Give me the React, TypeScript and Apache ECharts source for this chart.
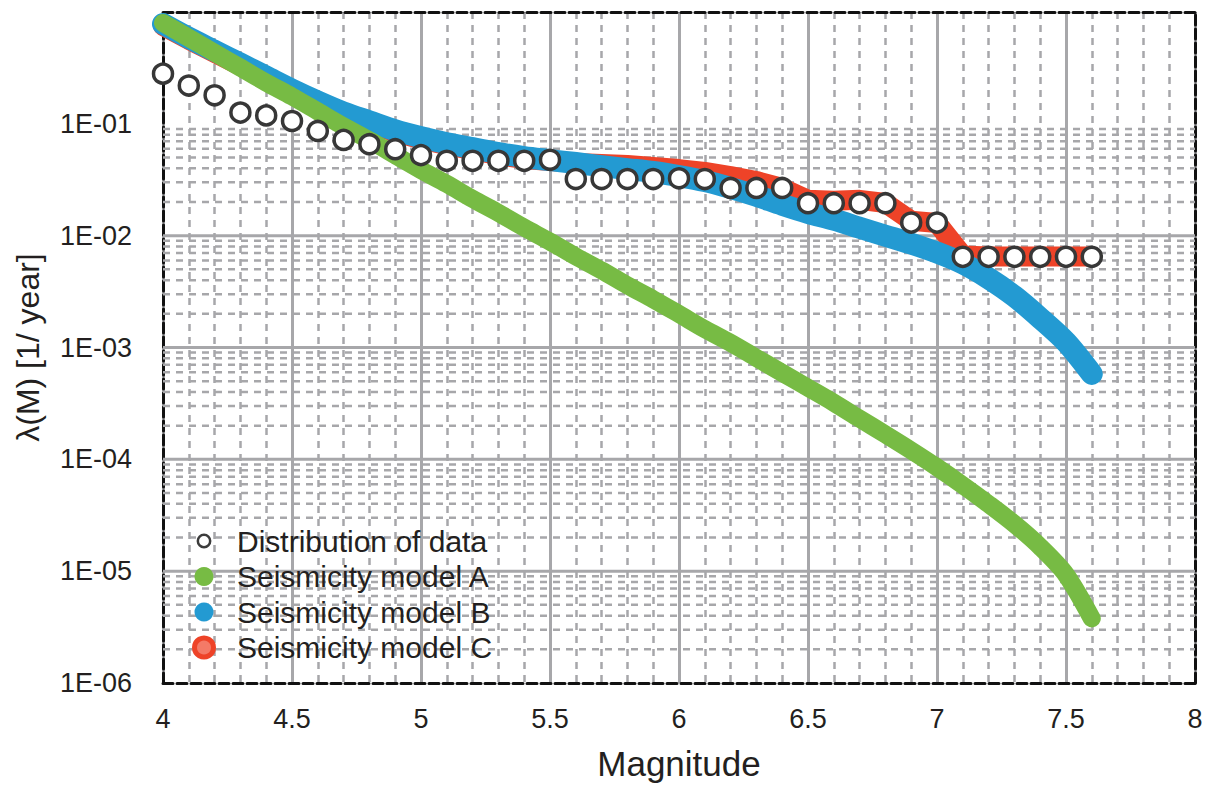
import React, { useEffect, useRef } from "react";
import * as echarts from "echarts";

// Magnitude bins (x)
const magnitudes = [
  4.0, 4.1, 4.2, 4.3, 4.4, 4.5, 4.6, 4.7, 4.8, 4.9,
  5.0, 5.1, 5.2, 5.3, 5.4, 5.5, 5.6, 5.7, 5.8, 5.9,
  6.0, 6.1, 6.2, 6.3, 6.4, 6.5, 6.6, 6.7, 6.8, 6.9,
  7.0, 7.1, 7.2, 7.3, 7.4, 7.5, 7.6,
];

// Observed cumulative rate (circles)
const dataRates = [
  0.281, 0.22, 0.18, 0.126, 0.119, 0.106, 0.0863, 0.0718, 0.0657, 0.0593,
  0.0525, 0.0467, 0.0467, 0.0467, 0.0467, 0.0477, 0.0321, 0.0321, 0.0321, 0.0321,
  0.0326, 0.0321, 0.0267, 0.0267, 0.0267, 0.0195, 0.0195, 0.0195, 0.0195, 0.0131,
  0.0131, 0.00647, 0.00647, 0.00647, 0.00647, 0.00647, 0.00647,
];

// Seismicity model A (green)
const modelA = [
  0.798, 0.587, 0.432, 0.318, 0.234, 0.1755, 0.1292, 0.095, 0.0713, 0.0525,
  0.0386, 0.029, 0.0213, 0.016, 0.01178, 0.00885, 0.00651, 0.00489, 0.00359, 0.0027,
  0.00199, 0.00146, 0.0011, 0.000807, 0.000593, 0.000437, 0.000321, 0.000231, 0.000167, 0.00012,
  0.0000849, 0.0000587, 0.0000398, 0.0000264, 0.0000165, 0.00000931, 0.00000378,
];

// Seismicity model B (blue)
const modelB = [
  0.782, 0.587, 0.45, 0.345, 0.2644, 0.2026, 0.1585, 0.1265, 0.1052, 0.0876,
  0.0759, 0.0671, 0.0606, 0.0547, 0.0504, 0.0474, 0.0446, 0.0419, 0.0394, 0.0371,
  0.0341, 0.0308, 0.0267, 0.0227, 0.0189, 0.016, 0.0139, 0.01178, 0.01, 0.00849,
  0.00706, 0.00564, 0.00415, 0.00287, 0.00183, 0.00112, 0.000581,
];

// Seismicity model C (red)
const modelC = [
  0.751, 0.564, 0.432, 0.331, 0.2538, 0.1945, 0.1522, 0.1215, 0.101, 0.084,
  0.0728, 0.0644, 0.0581, 0.0525, 0.0484, 0.0464, 0.0446, 0.0437, 0.0428, 0.0411,
  0.0394, 0.0371, 0.0341, 0.0308, 0.0267, 0.0209, 0.0205, 0.0209, 0.0196, 0.0136,
  0.013, 0.00664, 0.00651, 0.00651, 0.00651, 0.00651, 0.00651,
];

const seriesNames = [
  "Distribution of data",
  "Seismicity model A",
  "Seismicity model B",
  "Seismicity model C",
];

// Horizontal grid: solid decades and dashed 2..9 multiples
const majorDecades = [1e-5, 1e-4, 1e-3, 1e-2];
const minorExponents = [-6, -5, -4, -3, -2];
const minorMultipliers = [2, 3, 4, 5, 6, 7, 8, 9];
const xRange = [4, 8];

const FONT = "'Liberation Sans', Arial, Helvetica, sans-serif";
const TEXT = "#231f20";
const GRID = "#a7a7aa";
const GREEN = "#77bb44";
const BLUE = "#239ad2";
const RED = "#ee4328";

const pairs = (ys: number[]) => magnitudes.map((m, i) => [m, ys[i]]);

export default function App() {
  const ref = useRef<HTMLDivElement>(null);

  useEffect(() => {
    if (!ref.current) return;
    const chart = echarts.init(ref.current, undefined, { renderer: "svg" });

    const minorValues: number[] = [];
    minorExponents.forEach((e) =>
      minorMultipliers.forEach((k) =>
        minorValues.push(Number((k * Math.pow(10, e)).toPrecision(3)))
      )
    );

    const gridSeries = (v: number, dashed: boolean) => ({
      type: "line",
      data: [
        [xRange[0], v],
        [xRange[1], v],
      ],
      symbol: "none",
      silent: true,
      z: 1,
      emphasis: { disabled: true },
      lineStyle: dashed
        ? { color: GRID, width: 2.5, type: [7, 6] }
        : { color: GRID, width: 3, type: "solid" },
    });

    const border = { show: true, onZero: false, lineStyle: { color: "#111", width: 3, type: [10, 4] } };

    const option: any = {
      animation: false,
      backgroundColor: "#ffffff",
      textStyle: { fontFamily: FONT },
      grid: { left: 163, right: 17, top: 12, bottom: 99 },
      legend: {
        orient: "vertical",
        left: 187,
        top: 521,
        itemWidth: 56,
        itemHeight: 19,
        itemGap: 5.5,
        selectedMode: false,
        textStyle: { fontSize: 30, color: TEXT, lineHeight: 30, fontFamily: FONT },
        data: [
          {
            name: seriesNames[0],
            icon: "path://M0,0M20,20M3.5,10A6.5,6.5 0 1 1 16.5,10A6.5,6.5 0 1 1 3.5,10Z",
            itemStyle: { color: "#ffffff", borderColor: "#3c3c3c", borderWidth: 2.5, opacity: 1 },
          },
          { name: seriesNames[1], icon: "circle", itemStyle: { color: GREEN, borderWidth: 0 } },
          { name: seriesNames[2], icon: "circle", itemStyle: { color: BLUE, borderWidth: 0 } },
          {
            name: seriesNames[3],
            icon: "circle",
            itemStyle: { color: "#f47a67", borderColor: RED, borderWidth: 5 },
          },
        ],
      },
      xAxis: [
        {
          type: "value",
          min: 4,
          max: 8,
          interval: 0.5,
          position: "bottom",
          axisLine: border,
          axisTick: { show: false },
          axisLabel: { fontSize: 27, color: TEXT, margin: 22, fontFamily: FONT },
          splitLine: { show: true, lineStyle: { color: GRID, width: 3 } },
          minorTick: { show: false, splitNumber: 5 },
          minorSplitLine: { show: true, lineStyle: { color: GRID, width: 2.5, type: [7, 6] } },
          name: "Magnitude",
          nameLocation: "middle",
          nameGap: 63,
          nameTextStyle: { fontSize: 35, color: TEXT, fontFamily: FONT },
        },
        {
          type: "value",
          min: 4,
          max: 8,
          position: "top",
          axisLine: border,
          axisTick: { show: false },
          axisLabel: { show: false },
          splitLine: { show: false },
        },
      ],
      yAxis: [
        {
          type: "log",
          logBase: 10,
          min: 1e-6,
          max: 1,
          splitNumber: 6,
          position: "left",
          axisLine: border,
          axisTick: { show: false },
          axisLabel: {
            fontSize: 27,
            color: TEXT,
            margin: 31,
            fontFamily: FONT,
            formatter: (v: number) => {
              const e = Math.round(Math.log10(v));
              if (e >= 0) return "";
              return "1E-" + String(-e).padStart(2, "0");
            },
          },
          splitLine: { show: false },
          name: "λ(M) [1/ year]",
          nameLocation: "middle",
          nameGap: 119,
          nameTextStyle: { fontSize: 32, color: TEXT, fontFamily: FONT },
        },
        {
          type: "log",
          logBase: 10,
          min: 1e-6,
          max: 1,
          splitNumber: 6,
          position: "right",
          axisLine: border,
          axisTick: { show: false },
          axisLabel: { show: false },
          splitLine: { show: false },
        },
      ],
      series: [
        ...minorValues.map((v) => gridSeries(v, true)),
        ...majorDecades.map((v) => gridSeries(v, false)),
        {
          type: "line",
          name: seriesNames[3],
          data: pairs(modelC),
          symbol: "none",
          clip: false,
          z: 2,
          itemStyle: { color: RED },
          lineStyle: { color: RED, width: 20, cap: "round", join: "round" },
        },
        {
          type: "line",
          name: seriesNames[2],
          data: pairs(modelB),
          symbol: "none",
          clip: false,
          smooth: 0.3,
          z: 3,
          itemStyle: { color: BLUE },
          lineStyle: { color: BLUE, width: 22, cap: "round", join: "round" },
        },
        {
          type: "line",
          name: seriesNames[1],
          data: pairs(modelA),
          symbol: "none",
          clip: false,
          smooth: 0.3,
          z: 4,
          itemStyle: { color: GREEN },
          lineStyle: { color: GREEN, width: 18, cap: "round", join: "round" },
        },
        {
          type: "scatter",
          name: seriesNames[0],
          data: pairs(dataRates),
          symbol: "circle",
          symbolSize: 19,
          z: 5,
          itemStyle: { color: "#ffffff", borderColor: "#373737", borderWidth: 3.5, opacity: 1 },
        },
      ],
    };

    chart.setOption(option);
    return () => chart.dispose();
  }, []);

  return (
    <div
      ref={ref}
      style={{ position: "fixed", left: 0, top: 0, width: 1212, height: 786, background: "#fff" }}
    />
  );
}
